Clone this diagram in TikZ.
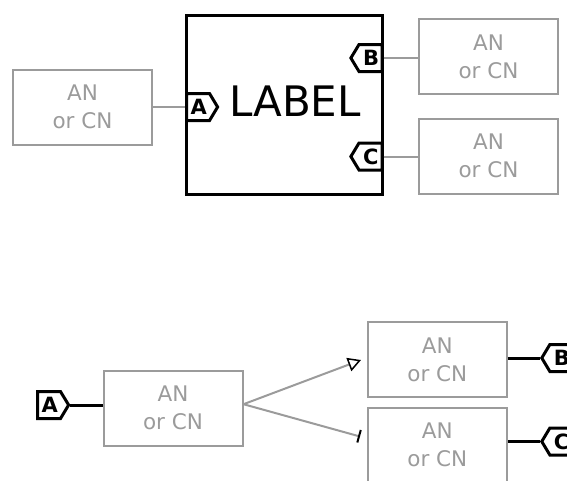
\documentclass[tikz,border=0pt]{standalone}
\usepackage{fontspec}
\setmainfont{DejaVu Sans}
\usetikzlibrary{arrows.meta}
\usetikzlibrary{shapes.symbols}

\definecolor{angray}{RGB}{155,155,155}

\tikzset{
    anbox/.style={draw=angray, line width=2pt, text=angray, align=center,
        minimum width=139pt, minimum height=75pt, inner sep=0pt,
        font=\fontsize{21.5}{28}\selectfont},
    port/.style={draw=black, fill=white, line width=3pt, shape=signal,
        signal pointer angle=118, inner xsep=4pt, inner ysep=6pt,
        text width=15pt, align=center, text height=15pt, text depth=0pt,
        font=\fontsize{21}{21}\bfseries\selectfont},
    portin/.style={port, signal to=east},
    portout/.style={port, signal to=west},
    wire/.style={line width=3pt},
    gwire/.style={draw=angray, line width=2pt},
}

\begin{document}
\begin{tikzpicture}[x=1pt,y=-1pt]
    \useasboundingbox (0,0) rectangle (567,480);
    \clip (0,0) rectangle (567,480);

    % top: the block with its ports
    \node[anbox] (anA) at (82.5,107) {AN\\or CN};
    \node[anbox] (anB) at (488.5,56.5) {AN\\or CN};
    \node[anbox] (anC) at (488.5,156) {AN\\or CN};
    \node[draw, line width=3pt, minimum width=195.5pt, minimum height=179pt,
        inner sep=0pt] (lbl) at (284.25,105) {};
    \node[font=\fontsize{42}{42}\selectfont] (lbltext) at (295,101) {LABEL};
    \node[portin, anchor=west] (pA) at (lbl.west |- anA.east) {A};
    \node[portout, anchor=east] (pB) at (lbl.east |- 0,58) {B};
    \node[portout, anchor=east] (pC) at (lbl.east |- 0,156.5) {C};
    \draw[gwire] (anA.east) -- (pA.west);
    \draw[gwire] (pB.east) -- (pB.east -| anB.west);
    \draw[gwire] (pC.east) -- (pC.east -| anC.west);

    % bottom: the same, flattened
    \node[anbox] (an) at (173,408.2) {AN\\or CN};
    \node[anbox] (anD) at (437.3,359.8) {AN\\or CN};
    \node[anbox] (anE) at (437.3,445.2) {AN\\or CN};
    \node[portin, anchor=west] (pA2) at (36,405) {A};
    \node[portout, anchor=west] (pB2) at (540,358) {B};
    \node[portout, anchor=west] (pC2) at (540,441.5) {C};
    \draw[wire] (pA2.east) -- (pA2.east -| an.west);
    \draw[wire] (anD.east |- pB2.west) -- (pB2.west);
    \draw[wire] (anE.east |- pC2.west) -- (pC2.west);

    \coordinate (split) at ([yshift=4pt]an.east);
    \coordinate (toD) at (361,360);
    \coordinate (toE) at (360,436.5);
    \draw[gwire, -{Triangle[open, color=black, line width=1.5pt, length=13pt, width=14pt]}]
        (split) -- (toD);
    \draw[gwire, -{Bar[color=black, line width=2pt, width=13pt]}]
        (split) -- (toE);
\end{tikzpicture}
\end{document}
